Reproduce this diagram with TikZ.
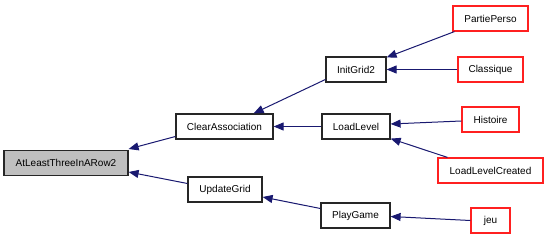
\documentclass[tikz,border=0pt]{standalone}
\usepackage{fontspec}
\setmainfont{Liberation Sans}
\usetikzlibrary{arrows.meta}
\definecolor{edgeblue}{HTML}{191970}
\definecolor{leafred}{HTML}{FF2020}
\definecolor{rootgray}{HTML}{BFBFBF}
\begin{document}
\begin{tikzpicture}[x=1pt,y=-1pt,
  fn/.style={draw=black!85, line width=1.2pt, fill=white, minimum height=25pt,
    inner sep=0pt, font=\fontsize{10}{12}\selectfont},
  rootfn/.style={fn, fill=rootgray},
  leaffn/.style={fn, draw=leafred},
  calls/.style={draw=edgeblue, line width=1pt,
    -{Triangle[length=10pt,width=8pt]}}]
\useasboundingbox (0,0) rectangle (548,240);
% callee on the left, callers to the right
\node[rootfn, minimum width=124pt] (atleast) at (66,163) {AtLeastThreeInARow2};
\node[fn, minimum width=97pt] (clear) at (224.5,126.5) {ClearAssociation};
\node[fn, minimum width=74pt] (update) at (225,189.5) {UpdateGrid};
\node[fn, minimum width=60pt] (initgrid) at (356,69.5) {InitGrid2};
\node[fn, minimum width=68pt] (loadlevel) at (356,126.5) {LoadLevel};
\node[fn, minimum width=69pt] (playgame) at (355.5,215.5) {PlayGame};
\node[leaffn, minimum width=75pt] (partie) at (490.5,18.5) {PartiePerso};
\node[leaffn, minimum width=65pt] (classique) at (490.5,69.5) {Classique};
\node[leaffn, minimum width=57pt] (histoire) at (490.5,119.5) {Histoire};
\node[leaffn, minimum width=105pt] (llc) at (490.5,170.5) {LoadLevelCreated};
\node[leaffn, minimum width=39pt] (jeu) at (490.5,220.5) {jeu};
% call edges (shifts are in page units: positive yshift moves up)
\draw[calls] ([yshift=-10pt]clear.west) -- ([yshift=14pt]atleast.east);
\draw[calls] ([yshift=6pt]update.west) -- ([yshift=-9pt]atleast.east);
\draw[calls] ([yshift=-10pt]initgrid.west) -- ([xshift=-20pt]clear.north east);
\draw[calls] (loadlevel) -- (clear);
\draw[calls] (playgame) -- (update);
\draw[calls] ([xshift=2pt]partie.south west) -- ([yshift=-1pt]initgrid.north east);
\draw[calls] (classique) -- (initgrid);
\draw[calls] ([yshift=-1.5pt]histoire.west) -- ([yshift=2.5pt]loadlevel.east);
\draw[calls] ([xshift=10pt]llc.north west) -- ([yshift=1pt]loadlevel.south east);
\draw[calls] (jeu.west) -- ([yshift=-1pt]playgame.east);
\end{tikzpicture}
\end{document}
